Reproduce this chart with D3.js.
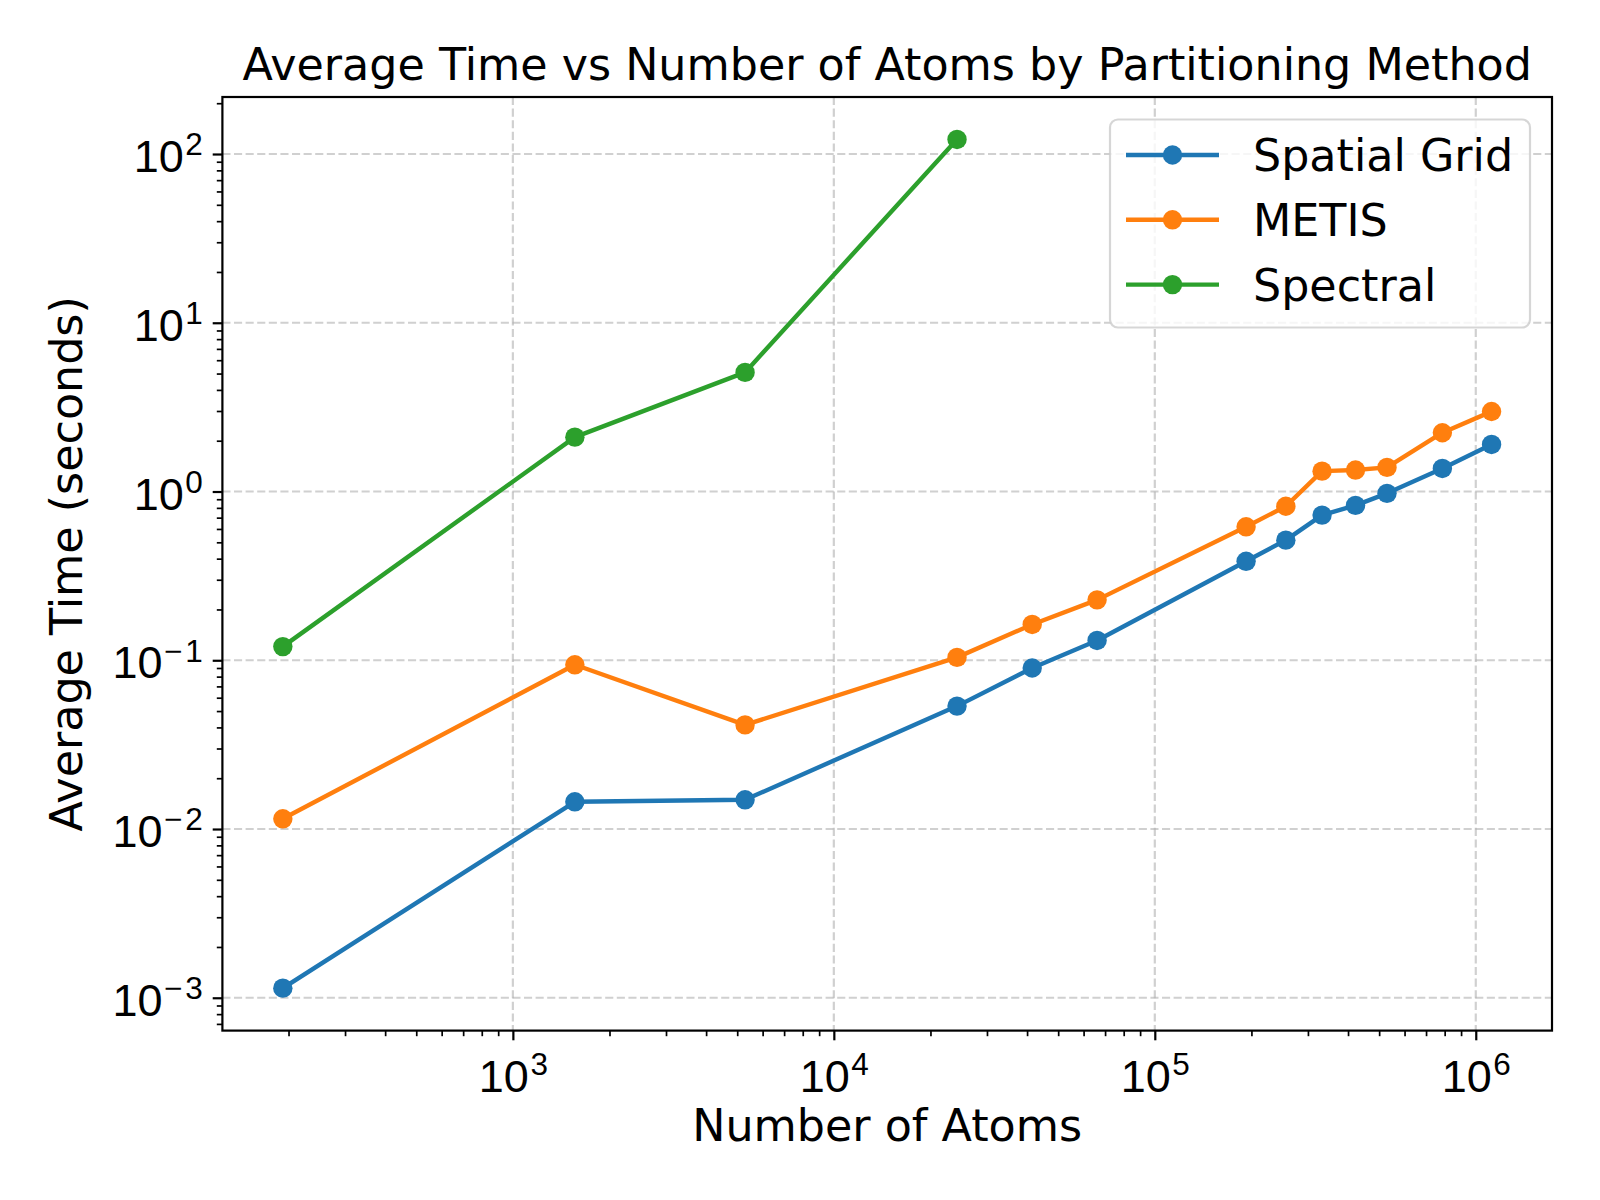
<!DOCTYPE html>
<html>
<head>
<meta charset="utf-8">
<script src="https://cdn.jsdelivr.net/npm/d3@7"></script>
<style>
  html, body { margin: 0; padding: 0; background: #fff; }
  svg { display: block; font-family: "DejaVu Sans", sans-serif; }
</style>
</head>
<body>
<svg id="chart" width="1600" height="1200"></svg>
<script>
// ---- data ----
const atoms = [192, 1560, 5290, 24200, 41500, 66100, 192500, 256000, 332000, 422000, 529000, 787000, 1120000];
const spatialGrid = [0.00114, 0.0145, 0.0149, 0.0535, 0.090, 0.131, 0.386, 0.515, 0.725, 0.828, 0.975, 1.37, 1.90];
const metis = [0.0115, 0.094, 0.0414, 0.104, 0.163, 0.228, 0.618, 0.818, 1.32, 1.34, 1.39, 2.23, 2.98];
const spectralAtoms = [192, 1560, 5290, 24200];
const spectral = [0.1205, 2.10, 5.08, 122];
const seriesNames = ["Spatial Grid", "METIS", "Spectral"];
const seriesColors = ["#1f77b4", "#ff7f0e", "#2ca02c"];
const xMajorExps = [3, 4, 5, 6];
const yMajorExps = [-3, -2, -1, 0, 1, 2];
const titleText = "Average Time vs Number of Atoms by Partitioning Method";
const xLabelText = "Number of Atoms";
const yLabelText = "Average Time (seconds)";

(function () {
const series = [
  { name: seriesNames[0], color: seriesColors[0], pts: atoms.map((a, i) => [a, spatialGrid[i]]) },
  { name: seriesNames[1], color: seriesColors[1], pts: atoms.map((a, i) => [a, metis[i]]) },
  { name: seriesNames[2], color: seriesColors[2], pts: spectralAtoms.map((a, i) => [a, spectral[i]]) }
];

// ---- layout ----
const pL = 222.4, pR = 1552, pT = 97, pB = 1030.6;
const FS = 44.4, TFS = 45;
const SUP = 0.7, SUPDY = -16.7;
const LW = 4.4, MR = 9.7;
const svg = d3.select("#chart");

function padLog(vals) {
  const lo = Math.log10(d3.min(vals)), hi = Math.log10(d3.max(vals));
  const p = (hi - lo) * 0.05;
  return [Math.pow(10, lo - p), Math.pow(10, hi + p)];
}
const allX = series.flatMap(s => s.pts.map(p => p[0]));
const allY = series.flatMap(s => s.pts.map(p => p[1]));
const x = d3.scaleLog().domain(padLog(allX)).range([pL, pR]);
const y = d3.scaleLog().domain(padLog(allY)).range([pB, pT]);

function minorTicks(scale) {
  const [a, b] = scale.domain();
  const out = [];
  for (let e = Math.floor(Math.log10(a)) - 1; e <= Math.ceil(Math.log10(b)); e++) {
    for (let m = 2; m <= 9; m++) {
      const v = m * Math.pow(10, e);
      if (v >= a && v <= b) out.push(v);
    }
  }
  return out;
}
const xMajor = xMajorExps.map(e => Math.pow(10, e));
const yMajor = yMajorExps.map(e => Math.pow(10, e));

// ---- grid ----
const grid = svg.append("g");
grid.selectAll("line.gx").data(xMajor).join("line")
  .attr("x1", d => x(d)).attr("x2", d => x(d)).attr("y1", pT).attr("y2", pB)
  .attr("stroke", "#b0b0b0").attr("stroke-opacity", 0.6).attr("stroke-width", 2.2)
  .attr("stroke-dasharray", "8.1,3.5");
grid.selectAll("line.gy").data(yMajor).join("line")
  .attr("y1", d => y(d)).attr("y2", d => y(d)).attr("x1", pL).attr("x2", pR)
  .attr("stroke", "#b0b0b0").attr("stroke-opacity", 0.6).attr("stroke-width", 2.2)
  .attr("stroke-dasharray", "8.1,3.5");

// ---- series ----
const line = d3.line().x(d => x(d[0])).y(d => y(d[1]));
series.forEach(s => {
  svg.append("path").datum(s.pts).attr("d", line)
    .attr("fill", "none").attr("stroke", s.color).attr("stroke-width", LW)
    .attr("stroke-linejoin", "round").attr("stroke-linecap", "square");
  svg.append("g").selectAll("circle").data(s.pts).join("circle")
    .attr("cx", d => x(d[0])).attr("cy", d => y(d[1])).attr("r", MR)
    .attr("fill", s.color);
});

// ---- axes ----
function styleAxis(g, w) {
  g.select(".domain").remove();
  g.selectAll(".tick line").attr("stroke", "#000").attr("stroke-width", w);
}
function powLabel(t, e) {
  t.append("tspan").text("10");
  if (e < 0) {
    t.append("tspan").attr("font-size", TFS * SUP).attr("dx", 1.5).attr("dy", SUPDY).text("\u2212");
    t.append("tspan").attr("font-size", TFS * SUP).attr("dx", 3).text(String(-e));
  } else {
    t.append("tspan").attr("font-size", TFS * SUP).attr("dx", 1.5).attr("dy", SUPDY).text(String(e));
  }
}
const xAxisMinor = svg.append("g").attr("transform", `translate(0,${pB})`)
  .call(d3.axisBottom(x).tickValues(minorTicks(x)).tickSize(5.6).tickFormat(""));
styleAxis(xAxisMinor, 1.7);
const xAxis = svg.append("g").attr("transform", `translate(0,${pB})`)
  .call(d3.axisBottom(x).tickValues(xMajor).tickSize(9.7).tickFormat(""));
styleAxis(xAxis, 2.2);
xAxis.selectAll(".tick text").remove();
xAxis.selectAll(".tick").each(function(d) {
  const t = d3.select(this).append("text")
    .attr("y", 61).attr("fill", "#000").attr("font-size", TFS).attr("text-anchor", "middle");
  powLabel(t, Math.round(Math.log10(d)));
});

const yAxisMinor = svg.append("g").attr("transform", `translate(${pL},0)`)
  .call(d3.axisLeft(y).tickValues(minorTicks(y)).tickSize(5.6).tickFormat(""));
styleAxis(yAxisMinor, 1.7);
const yAxis = svg.append("g").attr("transform", `translate(${pL},0)`)
  .call(d3.axisLeft(y).tickValues(yMajor).tickSize(9.7).tickFormat(""));
styleAxis(yAxis, 2.2);
yAxis.selectAll(".tick text").remove();
yAxis.selectAll(".tick").each(function(d) {
  const t = d3.select(this).append("text")
    .attr("x", -19.5).attr("y", 17.5).attr("fill", "#000").attr("font-size", TFS).attr("text-anchor", "end");
  powLabel(t, Math.round(Math.log10(d)));
});

// frame
svg.append("rect").attr("x", pL).attr("y", pT).attr("width", pR - pL).attr("height", pB - pT)
  .attr("fill", "none").attr("stroke", "#000").attr("stroke-width", 2.2);

// ---- labels ----
svg.append("text").attr("x", (pL + pR) / 2).attr("y", 80).attr("text-anchor", "middle")
  .attr("font-size", FS).attr("fill", "#000").text(titleText);
svg.append("text").attr("x", (pL + pR) / 2).attr("y", 1141).attr("text-anchor", "middle")
  .attr("font-size", FS).attr("fill", "#000").text(xLabelText);
svg.append("text").attr("transform", `translate(82,${(pT + pB) / 2}) rotate(-90)`)
  .attr("text-anchor", "middle").attr("font-size", FS).attr("fill", "#000").text(yLabelText);

// ---- legend ----
const lg = svg.append("g");
lg.append("rect").attr("x", 1110).attr("y", 119.5).attr("width", 420).attr("height", 208)
  .attr("rx", 8).attr("fill", "#fff").attr("fill-opacity", 0.8)
  .attr("stroke", "#cccccc").attr("stroke-opacity", 0.8).attr("stroke-width", 2.2);
series.forEach((s, i) => {
  const cy = 155 + i * 64.8;
  lg.append("line").attr("x1", 1126).attr("x2", 1219).attr("y1", cy).attr("y2", cy)
    .attr("stroke", s.color).attr("stroke-width", LW);
  lg.append("circle").attr("cx", 1172.5).attr("cy", cy).attr("r", MR).attr("fill", s.color);
  lg.append("text").attr("x", 1253).attr("y", cy + 16.2).attr("font-size", FS).attr("fill", "#000").text(s.name);
});
})();
</script>
</body>
</html>
